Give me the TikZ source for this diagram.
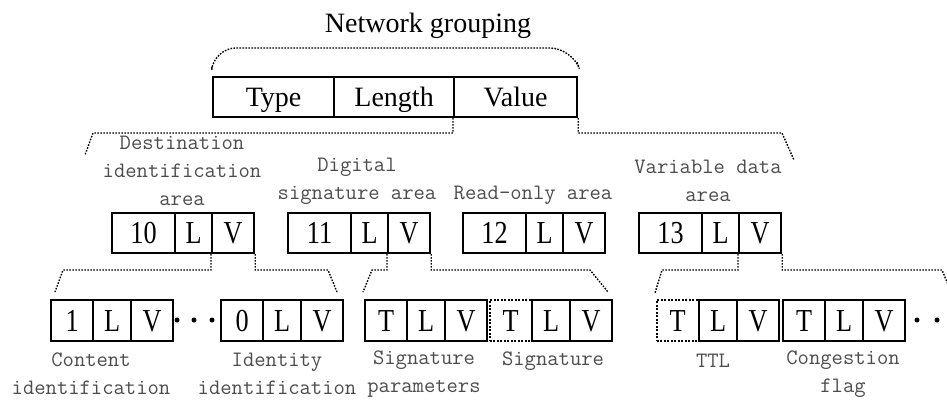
\documentclass[tikz,border=0pt]{standalone}
\usepackage{fontspec}
\setmainfont{Liberation Serif}
\newfontfamily\cellfont[FakeStretch=0.82]{Liberation Serif}
\begin{document}
\begin{tikzpicture}[x=1pt,y=-1pt,
  cellA/.style={draw, line width=2.2pt, inner sep=0pt, minimum height=40pt, anchor=west, text height=21pt, text depth=3pt, font=\fontsize{28}{32}\selectfont},
  cellB/.style={draw, line width=2.2pt, inner sep=0pt, minimum height=40pt, anchor=west, text height=22pt, text depth=2pt, font=\cellfont\fontsize{32}{34}\selectfont},
  cellC/.style={cellB, minimum height=41pt, text height=23.5pt, text depth=1pt},
  dcell/.style={cellC, line width=1.5pt, dash pattern=on 2pt off 1.5pt},
  lab/.style={font=\ttfamily\fontsize{22}{28}\selectfont, text=black!70, align=center, inner sep=0pt},
  dots/.style={line width=1.4pt, dash pattern=on 1.6pt off 1.4pt},
  blob/.style={circle, fill, inner sep=0pt, minimum size=5pt}]
\useasboundingbox (0,0) rectangle (947,399);

% title
\node[font=\fontsize{28}{32}\selectfont] (title) at (428,26) {Network grouping};

% top box
\node[cellA, minimum width=121pt] (tT) at (212,97) {Type};
\node[cellA, minimum width=120pt] (tL) at (333,97) {Length};
\node[cellA, minimum width=123pt] (tV) at (453,97) {Value};

% level 2 boxes
\foreach \n/\x in {10/111,11/287,12/462,13/638}{
  \node[cellB, minimum width=63pt] (b\n T) at (\x,233) {\n};
  \node[cellB, minimum width=37pt] (b\n L) at (\x+63,233) {L};
  \node[cellB, minimum width=42pt] (b\n V) at (\x+100,233) {V};
}

% level 3 boxes
\node[cellC, minimum width=42pt] (aT) at (50,320.5) {1};
\node[cellC, minimum width=38pt] (aL) at (92,320.5) {L};
\node[cellC, minimum width=42pt] (aV) at (130,320.5) {V};

\node[cellC, minimum width=42pt] (bT) at (220,320.5) {0};
\node[cellC, minimum width=38pt] (bL) at (262,320.5) {L};
\node[cellC, minimum width=42pt] (bV) at (300,320.5) {V};

\node[cellC, minimum width=42pt] (cT) at (364,320.5) {T};
\node[cellC, minimum width=38pt] (cL) at (406,320.5) {L};
\node[cellC, minimum width=42pt] (cV) at (444,320.5) {V};

\node[dcell, minimum width=42pt] (dT) at (489,320.5) {T};
\node[cellC, minimum width=38pt] (dL) at (531,320.5) {L};
\node[cellC, minimum width=42pt] (dV) at (569,320.5) {V};

\node[dcell, minimum width=42pt] (eT) at (656,320.5) {T};
\node[cellC, minimum width=38pt] (eL) at (698,320.5) {L};
\node[cellC, minimum width=42pt] (eV) at (736,320.5) {V};

\node[cellC, minimum width=42pt] (fT) at (782,320.5) {T};
\node[cellC, minimum width=38pt] (fL) at (824,320.5) {L};
\node[cellC, minimum width=42pt] (fV) at (862,320.5) {V};

% ellipsis dots
\node[blob] (e1) at (177,320) {};
\node[blob] (e2) at (194,320) {};
\node[blob] (e3) at (212,320) {};
\node[blob] (e4) at (917,320) {};
\node[blob] (e5) at (937,320) {};

% labels level 2
\node[lab] (l10) at (182,171) {Destination\\identification\\area};
\node[lab] (l11) at (357,181) {Digital\\signature area};
\node[lab] (l12) at (533,195) {Read-only area};
\node[lab] (l13) at (708,181) {Variable data\\area};

% labels level 3
\node[lab] (la) at (91,374) {Content\\identification};
\node[lab] (lb) at (277,374) {Identity\\identification};
\node[lab] (lc) at (424,374) {Signature\\parameters};
\node[lab] (ld) at (553,361) {Signature};
\node[lab] (le) at (713,361) {TTL};
\node[lab] (lf) at (843,374) {Congestion\\flag};

% coordinates for brace ends
\coordinate (tA) at (212,67);
\coordinate (tB) at (577,62);
\coordinate (c1a) at (93,133);  \coordinate (c1b) at (85,155);
\coordinate (c2a) at (782,133); \coordinate (c2b) at (794,160);
\coordinate (d1a) at (63,270);  \coordinate (d1b) at (55,292);
\coordinate (d2a) at (328,270); \coordinate (d2b) at (337,292);
\coordinate (d3a) at (372,270); \coordinate (d3b) at (363,292);
\coordinate (d4a) at (590,270); \coordinate (d4b) at (608,292);
\coordinate (d5a) at (662,270); \coordinate (d5b) at (655,293);
\coordinate (d6a) at (942,270); \coordinate (d6b) at (951,292);

% braces
\draw[dots, rounded corners=22pt] (tA) -- (214,48) -- (572,48) -- (tB);
\draw[dots] (tV.south west) |- (c1a) -- (c1b);
\draw[dots] (tV.south east) |- (c2a) -- (c2b);
\draw[dots] (b10V.south west) |- (d1a) -- (d1b);
\draw[dots] (b10V.south east) |- (d2a) -- (d2b);
\draw[dots] (b11V.south west) |- (d3a) -- (d3b);
\draw[dots] (b11V.south east) |- (d4a) -- (d4b);
\draw[dots] (b13V.south west) |- (d5a) -- (d5b);
\draw[dots] (b13V.south east) |- (d6a) -- (d6b);
\end{tikzpicture}
\end{document}
